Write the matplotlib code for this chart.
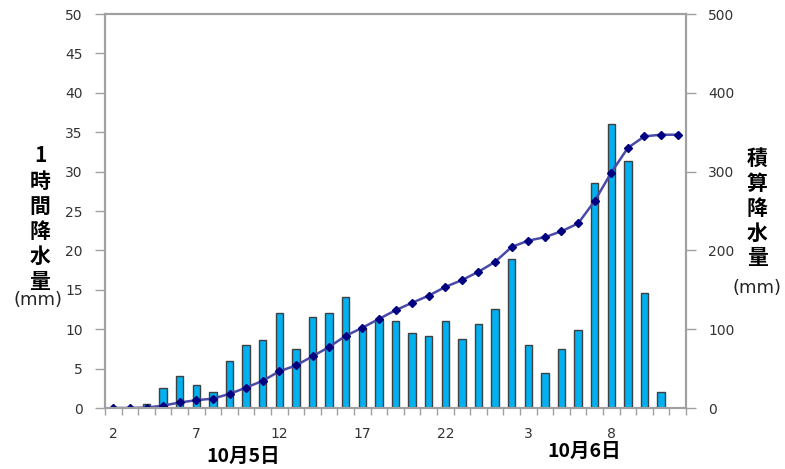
import numpy as np
import matplotlib
matplotlib.use("Agg")
from matplotlib import pyplot as plt

plt.rcParams['font.family'] = ['DejaVu Sans', 'Noto Sans CJK JP']

# hourly rain, 10/5 2:00 -> 10/6 12:00 (mm)
hours = [2, 3, 4, 5, 6, 7, 8, 9, 10, 11, 12, 13, 14, 15, 16, 17, 18, 19, 20, 21, 22, 23,
         0, 1, 2, 3, 4, 5, 6, 7, 8, 9, 10, 11, 12]
rain = [0, 0, 0.5, 2.5, 4.0, 2.9, 2.0, 6.0, 8.0, 8.6, 12.0, 7.5, 11.5, 12.0, 14.1, 10.2,
        11.2, 11.0, 9.5, 9.1, 11.0, 8.7, 10.6, 12.6, 18.9, 8.0, 4.4, 7.5, 9.9, 28.6,
        36.0, 31.4, 14.6, 2.0, 0]
# accumulated rain (mm)
total = [0, 0, 0.5, 3, 7, 9.9, 11.9, 17.9, 25.9, 34.5, 46.5, 54, 65.5, 77.5, 91.6, 101.8,
         113, 124, 133.5, 142.6, 153.6, 162.3, 172.9, 185.5, 204.4, 212.4, 216.8, 224.3,
         234.2, 262.8, 298.8, 330.2, 344.8, 346.8, 346.8]

W, H = 785, 469
fig = plt.figure(figsize=(W / 100, H / 100), dpi=100)
ax = fig.add_axes([105 / W, 1 - 408 / H, (686 - 105) / W, (408 - 14) / H])
ax2 = ax.twinx()

x = np.arange(len(hours))
ax.bar(x, rain, width=0.45, color='#00B0F0', edgecolor='#404040', linewidth=1.0)
ax2.plot(x, total, color='#4a4aa8', lw=1.8, marker='D', markersize=4.5,
         markerfacecolor='#000080', markeredgecolor='#000080')

ax.set_xlim(-0.5, len(hours) - 0.5)
ax.set_ylim(0, 50)
ax2.set_ylim(0, 500)
ax.set_yticks(range(0, 51, 5))
ax2.set_yticks(range(0, 501, 100))

ax.set_xticks(np.arange(-0.5, len(hours), 1))
ax.set_xticklabels([])
ax.set_xticks(x[::5], minor=True)
ax.set_xticklabels([str(hours[i]) for i in x[::5]], minor=True)
ax.tick_params(axis='x', which='major', length=5, width=1, color='#a0a0a0')
ax.tick_params(axis='x', which='minor', length=0, pad=14, labelsize=10, labelcolor='#333333')
ax.tick_params(axis='y', length=7, width=1, color='#a0a0a0', pad=9,
               labelsize=10, labelcolor='#333333')
ax2.tick_params(axis='y', length=7, width=1, color='#a0a0a0', pad=9,
                labelsize=10, labelcolor='#333333')

for a in (ax, ax2):
    for s in a.spines.values():
        s.set_color('#a0a0a0')
        s.set_linewidth(1.5)

cjk = ['Noto Sans CJK JP', 'DejaVu Sans']

def px(xp, yp):
    return xp / W, 1 - yp / H

left_chars = ['1', '時', '間', '降', '水', '量']
for i, c in enumerate(left_chars):
    fig.text(*px(40, 156 + i * 25), c, family=cjk, fontsize=15, fontweight='bold',
             ha='center', va='center')
fig.text(*px(38, 300), '(mm)', fontsize=13, color='#222222', ha='center', va='center')

right_chars = ['積', '算', '降', '水', '量']
for i, c in enumerate(right_chars):
    fig.text(*px(757, 158 + i * 25), c, family=cjk, fontsize=15, fontweight='bold',
             ha='center', va='center')
fig.text(*px(757, 288), '(mm)', fontsize=13, color='#222222', ha='center', va='center')

fig.text(*px(243, 456), '10月5日', family=cjk, fontsize=14, fontweight='bold',
         ha='center', va='center')
fig.text(*px(584, 451), '10月6日', family=cjk, fontsize=14, fontweight='bold',
         ha='center', va='center')

fig.savefig('out.png', dpi=100)
